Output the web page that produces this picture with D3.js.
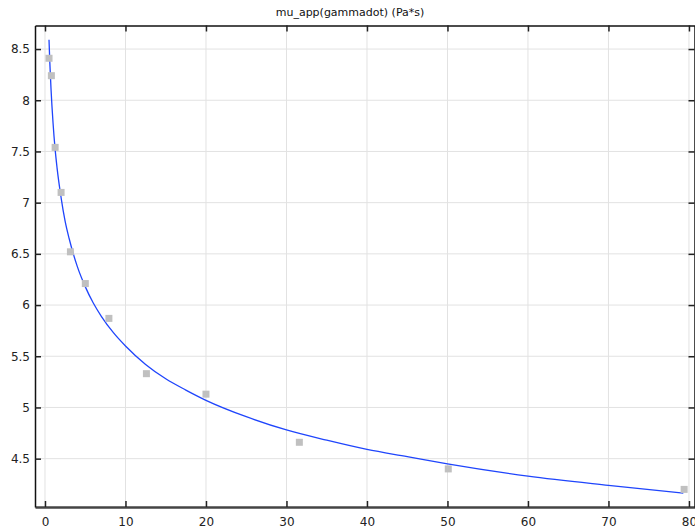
<!DOCTYPE html>
<html>
<head>
<meta charset="utf-8">
<script src="https://cdn.jsdelivr.net/npm/d3@7"></script>
<style>
  body { margin: 0; background: #fff; }
  svg { display: block; font-family: "DejaVu Sans", sans-serif; }
</style>
</head>
<body>
<svg class="chart" width="695" height="527"></svg>
<script>
// measured data (gray squares)
const shearRate = [0.501, 0.794, 1.26, 2.0, 3.16, 5.01, 7.94, 12.6, 20.0, 31.6, 50.1, 79.4];
const viscosity = [8.41, 8.24, 7.54, 7.10, 6.52, 6.21, 5.87, 5.33, 5.13, 4.66, 4.40, 4.20];

// fitted curve (blue line)
const fitX = [0.5, 0.6, 0.75, 1, 1.25, 1.5, 2, 2.5, 3, 4, 5, 6, 7, 8.5, 10, 12.5, 15, 17.5, 20, 25, 30, 35, 40, 45, 50, 60, 70, 79.3];
const fitY = [8.59, 8.37, 8.11, 7.78, 7.53, 7.34, 7.05, 6.82, 6.65, 6.38, 6.18, 6.02, 5.89, 5.73, 5.60, 5.42, 5.28, 5.17, 5.07, 4.91, 4.78, 4.68, 4.59, 4.52, 4.45, 4.33, 4.24, 4.164];

const xTicks = [0, 10, 20, 30, 40, 50, 60, 70, 80];
const yTicks = [4.5, 5, 5.5, 6, 6.5, 7, 7.5, 8, 8.5];
const title = "mu_app(gammadot) (Pa*s)";

const margin = { top: 25.5, right: 0, bottom: 20, left: 35 };
const W = 695, H = 527;
const width = W - margin.left - margin.right;
const height = H - margin.top - margin.bottom;

const svg = d3.select(".chart");
const g = svg.append("g").attr("transform", `translate(${margin.left},${margin.top})`);

const x = d3.scaleLinear().domain([-1.24, 80.75]).range([0, width]);
const y = d3.scaleLinear().domain([4.028, 8.73]).range([height, 0]);

// grid
g.append("g")
  .selectAll("line")
  .data(xTicks)
  .join("line")
  .attr("x1", (d) => x(d)).attr("x2", (d) => x(d))
  .attr("y1", 0).attr("y2", height)
  .attr("stroke", "#e2e2e2").attr("stroke-width", 1);
g.append("g")
  .selectAll("line")
  .data(yTicks)
  .join("line")
  .attr("x1", 0).attr("x2", width)
  .attr("y1", (d) => y(d)).attr("y2", (d) => y(d))
  .attr("stroke", "#e2e2e2").attr("stroke-width", 1);

// fitted line
const fit = fitX.map((v, i) => ({ x: v, y: fitY[i] }));
g.append("path")
  .datum(fit)
  .attr("fill", "none")
  .attr("stroke", "#1f45fc")
  .attr("stroke-width", 1.3)
  .attr("d", d3.line().x((d) => x(d.x)).y((d) => y(d.y)).curve(d3.curveMonotoneX));

// data squares
g.append("g")
  .selectAll("rect")
  .data(shearRate.map((v, i) => ({ x: v, y: viscosity[i] })))
  .join("rect")
  .attr("x", (d) => x(d.x) - 3.5)
  .attr("y", (d) => y(d.y) - 3.5)
  .attr("width", 7)
  .attr("height", 7)
  .attr("fill", "#c0c0c0");

// axes (ticks point inward)
const fmt = (d) => String(d);
const axBottom = g.append("g")
  .attr("transform", `translate(0,${height})`)
  .call(d3.axisBottom(x).tickValues(xTicks).tickFormat(fmt).tickSizeInner(-6).tickSizeOuter(0).tickPadding(10));
const axTop = g.append("g")
  .call(d3.axisTop(x).tickValues(xTicks).tickFormat("").tickSizeInner(-6).tickSizeOuter(0));
const axLeft = g.append("g")
  .call(d3.axisLeft(y).tickValues(yTicks).tickFormat(fmt).tickSizeInner(-6).tickSizeOuter(0).tickPadding(5));
const axRight = g.append("g")
  .attr("transform", `translate(${width - 0.5},0)`)
  .call(d3.axisRight(y).tickValues(yTicks).tickFormat("").tickSizeInner(-6).tickSizeOuter(0));

[axBottom, axTop, axLeft, axRight].forEach((a) => {
  a.selectAll("text").attr("font-size", 12).attr("fill", "#222").attr("font-family", "DejaVu Sans, sans-serif");
  a.selectAll(".tick line").attr("stroke", "#222").attr("stroke-width", 1.5);
  a.select(".domain").attr("stroke", "#111").attr("stroke-width", 1.5);
});
axBottom.select(".domain").attr("stroke", "#444").attr("stroke-width", 2.5);

// title
svg.append("text")
  .attr("x", 350)
  .attr("y", 16)
  .attr("text-anchor", "middle")
  .attr("font-size", 11)
  .attr("fill", "#111")
  .text(title);
</script>
</body>
</html>
